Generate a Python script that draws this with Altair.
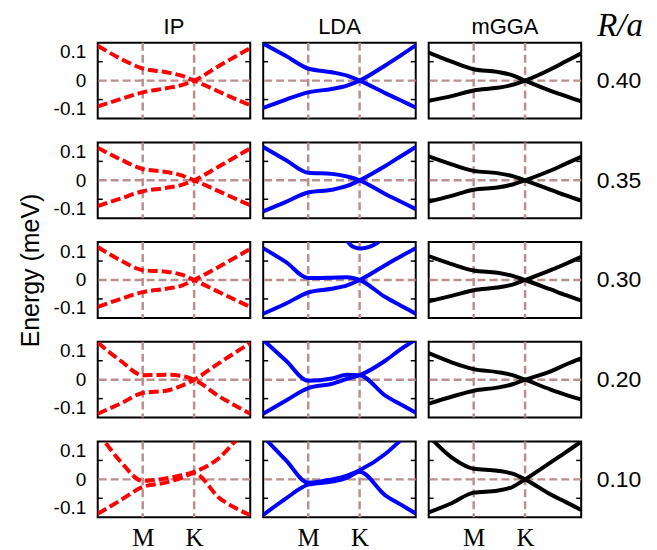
import altair as alt
import pandas as pd

# ---------------- data ----------------
X_GRID = [0.0, 0.15, 0.295, 0.45, 0.55, 0.632, 0.8, 0.9, 1.0]
M_POS, K_POS = 0.295, 0.632
METHODS = ["IP", "LDA", "mGGA"]
RATIOS = ["0.40", "0.35", "0.30", "0.20", "0.10"]
Y_TICKS = [-0.1, 0.0, 0.1]
MINOR_TICKS = [-0.05, 0.05]

IP_BAND1 = [
    [0.092, 0.058, 0.032, 0.022, 0.013, 0.0, -0.030, -0.048, -0.065],
    [0.086, 0.055, 0.030, 0.022, 0.013, 0.0, -0.030, -0.048, -0.066],
    [0.087, 0.052, 0.026, 0.022, 0.014, 0.0, -0.033, -0.052, -0.071],
    [0.098, 0.050, 0.012, 0.013, 0.010, 0.0, -0.045, -0.068, -0.090],
    [0.126, 0.047, -0.004, 0.003, 0.011, 0.020, 0.058, 0.100, 0.140],
]
IP_BAND2 = [
    [-0.068, -0.049, -0.031, -0.020, -0.012, 0.0, 0.040, 0.063, 0.086],
    [-0.068, -0.048, -0.029, -0.020, -0.012, 0.0, 0.038, 0.061, 0.084],
    [-0.071, -0.050, -0.032, -0.023, -0.015, 0.0, 0.036, 0.059, 0.082],
    [-0.090, -0.063, -0.035, -0.029, -0.016, 0.0, 0.045, 0.071, 0.097],
    [-0.091, -0.055, -0.020, -0.008, 0.004, 0.016, -0.050, -0.075, -0.094],
]
LDA_BAND1 = [
    [0.098, 0.065, 0.032, 0.022, 0.013, 0.0, -0.033, -0.052, -0.071],
    [0.088, 0.053, 0.020, 0.017, 0.010, 0.0, -0.036, -0.056, -0.076],
    [0.084, 0.047, 0.005, 0.006, 0.007, 0.0, -0.045, -0.067, -0.089],
    [0.105, 0.050, -0.003, 0.003, 0.013, 0.012, -0.042, -0.065, -0.087],
    [0.113, 0.050, -0.009, 0.000, 0.010, 0.024, 0.067, 0.103, 0.140],
]
LDA_BAND2 = [
    [-0.072, -0.050, -0.031, -0.022, -0.013, 0.0, 0.040, 0.066, 0.093],
    [-0.082, -0.057, -0.032, -0.025, -0.015, 0.0, 0.038, 0.063, 0.088],
    [-0.089, -0.062, -0.033, -0.023, -0.014, 0.0, 0.039, 0.062, 0.084],
    [-0.090, -0.055, -0.022, -0.011, 0.002, 0.012, 0.050, 0.080, 0.106],
    [-0.094, -0.050, -0.014, -0.006, 0.004, 0.020, -0.042, -0.066, -0.090],
]
MGGA_BAND1 = [
    [0.074, 0.050, 0.030, 0.023, 0.014, 0.0, -0.027, -0.041, -0.055],
    [0.063, 0.042, 0.025, 0.019, 0.011, 0.0, -0.025, -0.040, -0.054],
    [0.063, 0.042, 0.025, 0.019, 0.011, 0.0, -0.025, -0.040, -0.054],
    [0.070, 0.046, 0.028, 0.020, 0.012, 0.0, -0.026, -0.040, -0.052],
    [0.115, 0.058, 0.028, 0.023, 0.015, 0.0, -0.040, -0.060, -0.081],
]
MGGA_BAND2 = [
    [-0.053, -0.041, -0.026, -0.019, -0.011, 0.0, 0.030, 0.051, 0.072],
    [-0.056, -0.041, -0.025, -0.019, -0.011, 0.0, 0.026, 0.044, 0.062],
    [-0.056, -0.042, -0.027, -0.020, -0.012, 0.0, 0.026, 0.043, 0.061],
    [-0.063, -0.045, -0.029, -0.021, -0.012, 0.0, 0.022, 0.040, 0.056],
    [-0.087, -0.063, -0.035, -0.030, -0.020, 0.0, 0.045, 0.072, 0.100],
]
# extra (upper) band visible in the LDA, R/a = 0.30 panel
LDA_EXTRA_ROW = "0.30"
LDA_EXTRA_X = [0.55, 0.575, 0.6, 0.64, 0.7, 0.76]
LDA_EXTRA_E = [0.104, 0.092, 0.086, 0.083, 0.088, 0.101]

BANDS = {
    "IP": (IP_BAND1, IP_BAND2),
    "LDA": (LDA_BAND1, LDA_BAND2),
    "mGGA": (MGGA_BAND1, MGGA_BAND2),
}
COLORS = {"IP": "#ff0000", "LDA": "#0000ff", "mGGA": "#000000"}
RATIO_HEADER = "R/a"

# ---------------- style ----------------
W, H = 153, 76
GRID_COLOR = "#bc8f8f"
SANS = "Liberation Sans"
SERIF = "Liberation Serif"

xscale = alt.Scale(domain=[0, 1], nice=False, zero=False)
yscale = alt.Scale(domain=[-0.1, 0.1], nice=False, zero=False)

Y_LABEL_EXPR = ("datum.value == 0 ? '0' : (datum.value < 0 ? '-' + format(-datum.value, '.1f') "
                ": format(datum.value, '.1f'))")


def y_axis(mi, ri):
    if mi == 0:
        kw = dict(values=Y_TICKS, labelExpr=Y_LABEL_EXPR, labelFlush=True, ticks=False,
                  tickSize=0, domain=False, grid=False, labelFontSize=19, labelPadding=12,
                  labelFont=SANS, labelColor="black")
        if ri == 2:
            kw.update(title="Energy (meV)", titleFontSize=25, titleFontWeight="normal",
                      titlePadding=10, titleFont=SANS, titleColor="black", titleY=28)
        else:
            kw.update(title=None)
        return alt.Axis(**kw)
    if mi == 2:
        return alt.Axis(orient="right", labels=False, ticks=False, domain=False, grid=False,
                        title=RATIOS[ri], titleAngle=0, titleAlign="left",
                        titleBaseline="middle", titleX=15, titleY=H / 2,
                        titleFontSize=23, titleFontWeight="normal", titleFont=SANS,
                        titleColor="black")
    return None


def x_axis(ri):
    if ri == len(RATIOS) - 1:
        return alt.Axis(values=[M_POS, K_POS],
                        labelExpr="datum.value < 0.5 ? 'M' : 'K'",
                        ticks=False, tickSize=0, domain=False, grid=False,
                        labelFlush=False, labelFont=SERIF, labelFontSize=25,
                        labelPadding=8, labelColor="black", title=None)
    return None


def panel(mi, ri):
    method = METHODS[mi]
    ratio = RATIOS[ri]
    b1, b2 = BANDS[method]
    xa, ya = x_axis(ri), y_axis(mi, ri)

    rows = []
    for bi, vals in enumerate([b1[ri], b2[ri]]):
        for xv, ev in zip(X_GRID, vals):
            rows.append({"x": xv, "E": ev, "band": f"b{bi}"})
    if method == "LDA" and ratio == LDA_EXTRA_ROW:
        for xv, ev in zip(LDA_EXTRA_X, LDA_EXTRA_E):
            rows.append({"x": xv, "E": ev, "band": "b2"})
    df = pd.DataFrame(rows)

    X = lambda f: alt.X(f, scale=xscale, axis=xa)
    Y = lambda f: alt.Y(f, scale=yscale, axis=ya)

    vlines = alt.Chart(pd.DataFrame({"x": [M_POS, K_POS]})).mark_rule(
        color=GRID_COLOR, strokeWidth=2.5, strokeDash=[8, 4]
    ).encode(x=X("x:Q"))
    hline = alt.Chart(pd.DataFrame({"E": [0.0]})).mark_rule(
        color=GRID_COLOR, strokeWidth=2.5, strokeDash=[8, 4]
    ).encode(y=Y("E:Q"))

    line_kw = dict(interpolate="monotone", clip=True, strokeWidth=4,
                   color=COLORS[method], strokeCap="butt")
    if method == "IP":
        line_kw["strokeDash"] = [10, 4]
    lines = alt.Chart(df).mark_line(**line_kw).encode(
        x=X("x:Q"), y=Y("E:Q"), detail="band:N"
    )

    tick_df = pd.DataFrame({"E": MINOR_TICKS})
    lticks = alt.Chart(tick_df).mark_rule(color="black", strokeWidth=1.5).encode(
        x=alt.value(0), x2=alt.value(5), y=Y("E:Q"))
    rticks = alt.Chart(tick_df).mark_rule(color="black", strokeWidth=1.5).encode(
        x=alt.value(W - 5), x2=alt.value(W), y=Y("E:Q"))

    layers = [vlines, hline, lines, lticks, rticks]

    if ri == 0:
        head = alt.Chart(pd.DataFrame({"t": [method]})).mark_text(
            font=SANS, fontSize=22, align="center", baseline="alphabetic", color="black"
        ).encode(x=alt.value(W / 2), y=alt.value(-9), text="t:N")
        layers.append(head)
    if mi == 2 and ri == 0:
        ra = alt.Chart(pd.DataFrame({"t": [RATIO_HEADER]})).mark_text(
            font=SERIF, fontStyle="italic", fontSize=33, align="center",
            baseline="alphabetic", color="black"
        ).encode(x=alt.value(W + 39), y=alt.value(-7), text="t:N")
        layers.append(ra)

    return alt.layer(*layers).properties(width=W, height=H)


panels = [panel(mi, ri) for ri in range(len(RATIOS)) for mi in range(3)]
chart = alt.concat(*panels, columns=3, spacing={"row": 24, "column": 13},
                   bounds="flush").properties(
    padding={"left": 9, "top": 0, "right": 5, "bottom": 0}
).configure_view(stroke="black", strokeWidth=2)

chart.save("out.html", embed_options={"renderer": "svg", "actions": False})
